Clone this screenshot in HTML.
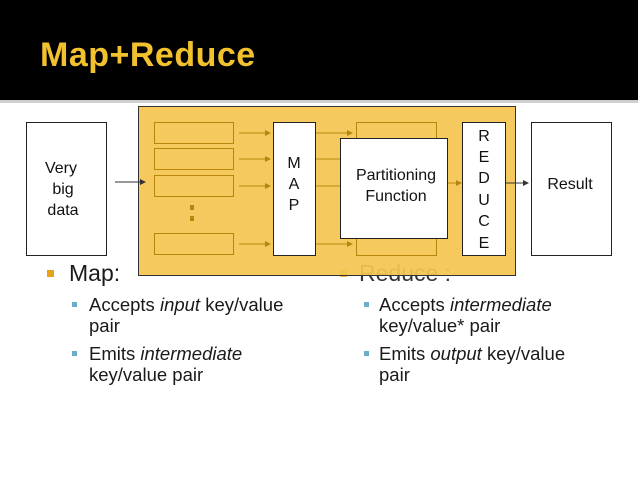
<!DOCTYPE html>
<html><head><meta charset="utf-8"><style>
body{margin:0;width:638px;height:479px;background:#fff;position:relative;overflow:hidden;font-family:"Liberation Sans",sans-serif;}
.hdr{position:absolute;left:0;top:0;width:638px;height:100px;background:#000;}
.line{position:absolute;left:0;top:100px;width:638px;height:3px;background:#cfcfcf;}
.title{position:absolute;left:40px;top:36px;color:#f2c12e;font-weight:bold;font-size:34px;letter-spacing:0.5px;}
.t{position:absolute;color:#1a1a1a;white-space:nowrap;}
.b1{position:absolute;width:7px;height:7px;background:#e6a31a;}
.b2{position:absolute;width:5px;height:5px;background:#6aaec8;}
</style></head><body>
<div class="hdr"></div><div class="line"></div>
<div class="title">Map+Reduce</div>
<div class="b1" style="left:340px;top:270px;background:#e6b84a"></div>
<div class="t" style="left:359px;top:260px;font-size:23px;color:#333">Reduce :</div>
<svg style="position:absolute;left:0;top:0" width="638" height="479">
<defs>
<marker id="g" markerWidth="6" markerHeight="6" refX="5" refY="3" orient="auto"><path d="M0,0L6,3L0,6z" fill="#b8860b"/></marker>
<marker id="k" markerWidth="6" markerHeight="6" refX="5" refY="3" orient="auto"><path d="M0,0L6,3L0,6z" fill="#333"/></marker>
</defs>
<rect x="138.5" y="106.5" width="377" height="169" fill="#f4c552" fill-opacity="0.93" stroke="#333" stroke-width="1"/>
<rect x="26.5" y="122.5" width="80" height="133" fill="#fff" stroke="#222"/>
<g fill="none" stroke="#b8860b" stroke-width="1">
<rect x="154.5" y="122.5" width="79" height="21"/>
<rect x="154.5" y="148.5" width="79" height="21"/>
<rect x="154.5" y="175.5" width="79" height="21"/>
<rect x="154.5" y="233.5" width="79" height="21"/>
<rect x="356.5" y="122.5" width="80" height="133"/>
</g>
<rect x="190" y="205" width="4" height="5" fill="#b8860b"/>
<rect x="190" y="216" width="4" height="5" fill="#b8860b"/>
<g stroke="#b8860b" stroke-width="1" marker-end="url(#g)">
<line x1="239" y1="133" x2="270" y2="133"/><line x1="239" y1="159" x2="270" y2="159"/>
<line x1="239" y1="186" x2="270" y2="186"/><line x1="239" y1="244" x2="270" y2="244"/>
<line x1="316" y1="133" x2="352" y2="133"/><line x1="316" y1="159" x2="352" y2="159"/>
<line x1="316" y1="186" x2="352" y2="186"/><line x1="316" y1="244" x2="352" y2="244"/>
<line x1="448" y1="183" x2="461" y2="183"/>
</g>
<line x1="115" y1="182" x2="145" y2="182" stroke="#333" marker-end="url(#k)"/>
<line x1="506" y1="183" x2="528" y2="183" stroke="#333" marker-end="url(#k)"/>
<rect x="273.5" y="122.5" width="42" height="133" fill="#fff" stroke="#222"/>
<rect x="340.5" y="138.5" width="107" height="100" fill="#fff" stroke="#222"/>
<rect x="462.5" y="122.5" width="43" height="133" fill="#fff" stroke="#222"/>
<rect x="531.5" y="122.5" width="80" height="133" fill="#fff" stroke="#222"/>
<g font-family="Liberation Sans, sans-serif" font-size="16" fill="#111" text-anchor="middle">
<text x="61" y="173">Very</text><text x="63" y="194">big</text><text x="63" y="215">data</text>
<text x="294" y="168">M</text><text x="294" y="189">A</text><text x="294" y="210">P</text>
<text x="396" y="180">Partitioning</text><text x="396" y="201">Function</text>
<text x="484" y="141">R</text><text x="484" y="162">E</text><text x="484" y="183">D</text>
<text x="484" y="205">U</text><text x="484" y="226">C</text><text x="484" y="248">E</text>
<text x="570" y="189">Result</text>
</g>
</svg>
<div class="b1" style="left:47px;top:270px"></div>
<div class="t" style="left:69px;top:260px;font-size:23px">Map:</div>
<div class="b2" style="left:72px;top:302px"></div>
<div class="t" style="left:89px;top:294px;font-size:18.5px;line-height:21px">Accepts <i>input</i> key/value<br>pair</div>
<div class="b2" style="left:72px;top:351px"></div>
<div class="t" style="left:89px;top:343px;font-size:18.5px;line-height:21px">Emits <i>intermediate</i><br>key/value pair</div>
<div class="b2" style="left:364px;top:302px"></div>
<div class="t" style="left:379px;top:294px;font-size:18.5px;line-height:21px">Accepts <i>intermediate</i><br>key/value* pair</div>
<div class="b2" style="left:364px;top:351px"></div>
<div class="t" style="left:379px;top:343px;font-size:18.5px;line-height:21px">Emits <i>output</i> key/value<br>pair</div>
</body></html>
